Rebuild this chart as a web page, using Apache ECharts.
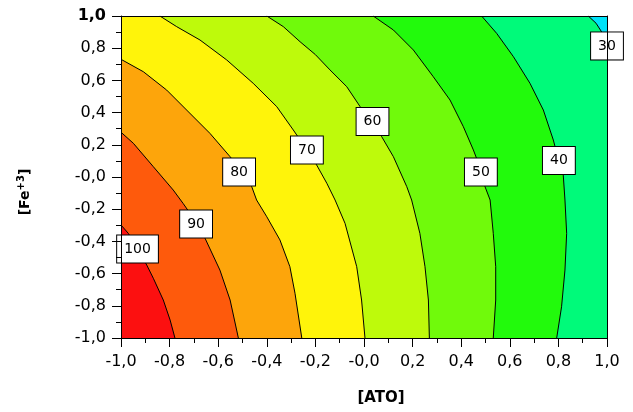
<!DOCTYPE html>
<html><head><meta charset="utf-8">
<script src="https://cdn.jsdelivr.net/npm/echarts@6/dist/echarts.min.js"></script>
<style>html,body{margin:0;padding:0;background:#fff}#c{width:633px;height:412px}</style>
</head><body><div id="c"></div>
<script>
// ---- data ----
const levels = [30, 40, 50, 60, 70, 80, 90, 100];
const c30 = [[0.923,1],[0.955,0.955],[0.978,0.901],[1,0.84]];
const c40 = [[0.484,1],[0.546,0.892],[0.615,0.747],[0.683,0.582],[0.738,0.416],[0.779,0.230],[0.800,0.110],[0.820,0.012],[0.827,-0.143],[0.834,-0.350],[0.827,-0.578],[0.813,-0.806],[0.793,-1]];
const c50 = [[0.038,1],[0.121,0.913],[0.203,0.789],[0.285,0.623],[0.354,0.478],[0.409,0.312],[0.450,0.168],[0.480,0.050],[0.498,-0.060],[0.519,-0.143],[0.532,-0.350],[0.542,-0.557],[0.542,-0.764],[0.532,-1]];
const c60 = [[-0.400,1],[-0.332,0.934],[-0.263,0.840],[-0.200,0.760],[-0.140,0.665],[-0.071,0.561],[-0.016,0.437],[0.030,0.340],[0.073,0.250],[0.121,0.126],[0.176,-0.060],[0.196,-0.143],[0.230,-0.350],[0.251,-0.557],[0.265,-0.764],[0.269,-1]];
const c70 = [[-0.840,1],[-0.771,0.934],[-0.675,0.851],[-0.565,0.727],[-0.456,0.582],[-0.359,0.437],[-0.291,0.292],[-0.240,0.180],[-0.195,0.075],[-0.153,-0.039],[-0.119,-0.143],[-0.078,-0.288],[-0.030,-0.557],[-0.010,-0.764],[0.004,-1]];
const c80 = [[-1,0.731],[-0.908,0.654],[-0.812,0.540],[-0.730,0.416],[-0.634,0.271],[-0.551,0.126],[-0.500,0.030],[-0.462,-0.060],[-0.442,-0.143],[-0.400,-0.247],[-0.346,-0.391],[-0.305,-0.557],[-0.284,-0.722],[-0.256,-1]];
const c90 = [[-1,0.278],[-0.949,0.209],[-0.867,0.064],[-0.785,-0.081],[-0.744,-0.165],[-0.700,-0.260],[-0.654,-0.381],[-0.593,-0.578],[-0.551,-0.764],[-0.517,-1]];
const c100 = [[-1,-0.298],[-0.970,-0.350],[-0.930,-0.450],[-0.894,-0.547],[-0.867,-0.629],[-0.826,-0.764],[-0.798,-0.888],[-0.778,-1]];
const contourLines = [c30, c40, c50, c60, c70, c80, c90, c100];
const bandColors = ['#00fa7a', '#22fa0c', '#70fa0b', '#befa0b', '#fff40a', '#fda50b', '#fe5a0c', '#fc1010'];
const baseColor = '#00e2f8';
const labelX = [1.0, 0.802, 0.481, 0.035, -0.235, -0.514, -0.691, -0.932];
const labelY = [0.814, 0.102, 0.031, 0.345, 0.168, 0.031, -0.292, -0.447];
const labelText = ['30', '40', '50', '60', '70', '80', '90', '100'];
const axisMin = -1, axisMax = 1, axisStep = 0.2;
const xName = '[ATO]';

// region "value > level": contour line closed clockwise along the frame
function perim(p) {
  const x = p[0], y = p[1], e = 1e-6;
  if (Math.abs(y - 1) < e) return x + 1;
  if (Math.abs(x - 1) < e) return 2 + (1 - y);
  if (Math.abs(y + 1) < e) return 4 + (1 - x);
  return 6 + (y + 1);
}
const corners = [[-1, 1, 0], [1, 1, 2], [1, -1, 4], [-1, -1, 6]];
function closeRegion(line) {
  const tS = perim(line[0]), tE = perim(line[line.length - 1]);
  const span = ((tS - tE) + 8) % 8;
  const extra = corners.map(c => [c[0], c[1], ((c[2] - tE) + 8) % 8])
    .filter(c => c[2] > 0 && c[2] < span)
    .sort((a, b) => a[2] - b[2]).map(c => [c[0], c[1]]);
  return line.concat(extra);
}
function fmt(v) {
  if (Math.abs(v) < 1e-9) return '-0,0';
  return v.toFixed(1).replace('.', ',');
}
const FONT = '"DejaVu Sans", sans-serif';
const axisCommon = {
  type: 'value', min: axisMin, max: axisMax, interval: axisStep, z: 10,
  splitLine: { show: false },
  axisLine: { show: true, onZero: false, lineStyle: { color: '#000', width: 1 } }
};
const chart = echarts.init(document.getElementById('c'), null, { renderer: 'canvas' });
const series = [];
series.push({
  type: 'custom', coordinateSystem: 'cartesian2d', xAxisIndex: 0, yAxisIndex: 0, z: 1, silent: true,
  data: contourLines.map((l, i) => [l[0][0], l[0][1], i]),
  encode: { x: 0, y: 1 },
  renderItem: (params, api) => {
    const i = api.value(2);
    const pts = closeRegion(contourLines[i]).map(p => api.coord(p));
    return { type: 'polygon', shape: { points: pts }, style: { fill: bandColors[i], lineWidth: 0 } };
  }
});
contourLines.forEach((l, i) => {
  series.push({
    type: 'line', name: String(levels[i]), data: l, symbol: 'none', silent: true, z: 3,
    lineStyle: { color: '#000', width: 1 }, animation: false
  });
});
series.push({
  type: 'scatter', z: 5, silent: true, symbolSize: 1,
  itemStyle: { color: 'rgba(0,0,0,0)', opacity: 1 },
  data: labelX.map((x, i) => [x, labelY[i], labelText[i]]),
  label: {
    show: true, position: 'inside', formatter: p => p.value[2], opacity: 1,
    backgroundColor: '#ffffff', borderColor: '#000', borderWidth: 1,
    padding: [7, 7, 6, 7], fontSize: 14, color: '#000', fontFamily: FONT
  }
});
chart.setOption({
  animation: false,
  textStyle: { fontFamily: FONT },
  grid: { left: 121, top: 16, width: 486, height: 322, show: true, backgroundColor: baseColor, borderWidth: 0, outerBoundsMode: 'none' },
  xAxis: [
    Object.assign({}, axisCommon, {
      position: 'bottom',
      axisTick: { show: true, length: 9, lineStyle: { color: '#000' } },
      minorTick: { show: true, splitNumber: 2, length: 5, lineStyle: { color: '#000' } },
      axisLabel: { margin: 16, fontSize: 16, color: '#000', fontFamily: FONT, formatter: fmt, showMinLabel: true, showMaxLabel: true }
    }),
    Object.assign({}, axisCommon, { position: 'top', axisTick: { show: false }, axisLabel: { show: false } })
  ],
  yAxis: [
    Object.assign({}, axisCommon, {
      position: 'left',
      axisTick: { show: true, length: 9, lineStyle: { color: '#000' } },
      minorTick: { show: true, splitNumber: 2, length: 5, lineStyle: { color: '#000' } },
      axisLabel: {
        margin: 15, fontSize: 16, color: '#000', fontFamily: FONT, showMinLabel: true, showMaxLabel: true,
        formatter: v => Math.abs(v - 1) < 1e-9 ? '{b|' + fmt(v) + '}' : fmt(v),
        rich: { b: { fontWeight: 'bold', fontSize: 16, color: '#000', fontFamily: FONT } }
      }
    }),
    Object.assign({}, axisCommon, { position: 'right', axisTick: { show: false }, axisLabel: { show: false } })
  ],
  graphic: [
    { type: 'text', x: 381, y: 398, silent: true,
      style: { text: xName, font: 'bold 15px "DejaVu Sans"', fill: '#000', align: 'center', verticalAlign: 'middle' } },
    { type: 'text', x: 25, y: 192, rotation: Math.PI / 2, silent: true,
      style: { text: '{n|[Fe}{s|+3}{n|]}', align: 'center', verticalAlign: 'middle', fill: '#000',
        rich: {
          n: { fontSize: 14, fontWeight: 'bold', fontFamily: FONT, lineHeight: 14, color: '#000' },
          s: { fontSize: 10, fontWeight: 'bold', fontFamily: FONT, lineHeight: 10, padding: [0, 0, 8, 0], color: '#000' }
        } } }
  ],
  series: series
});
</script>
</body></html>
